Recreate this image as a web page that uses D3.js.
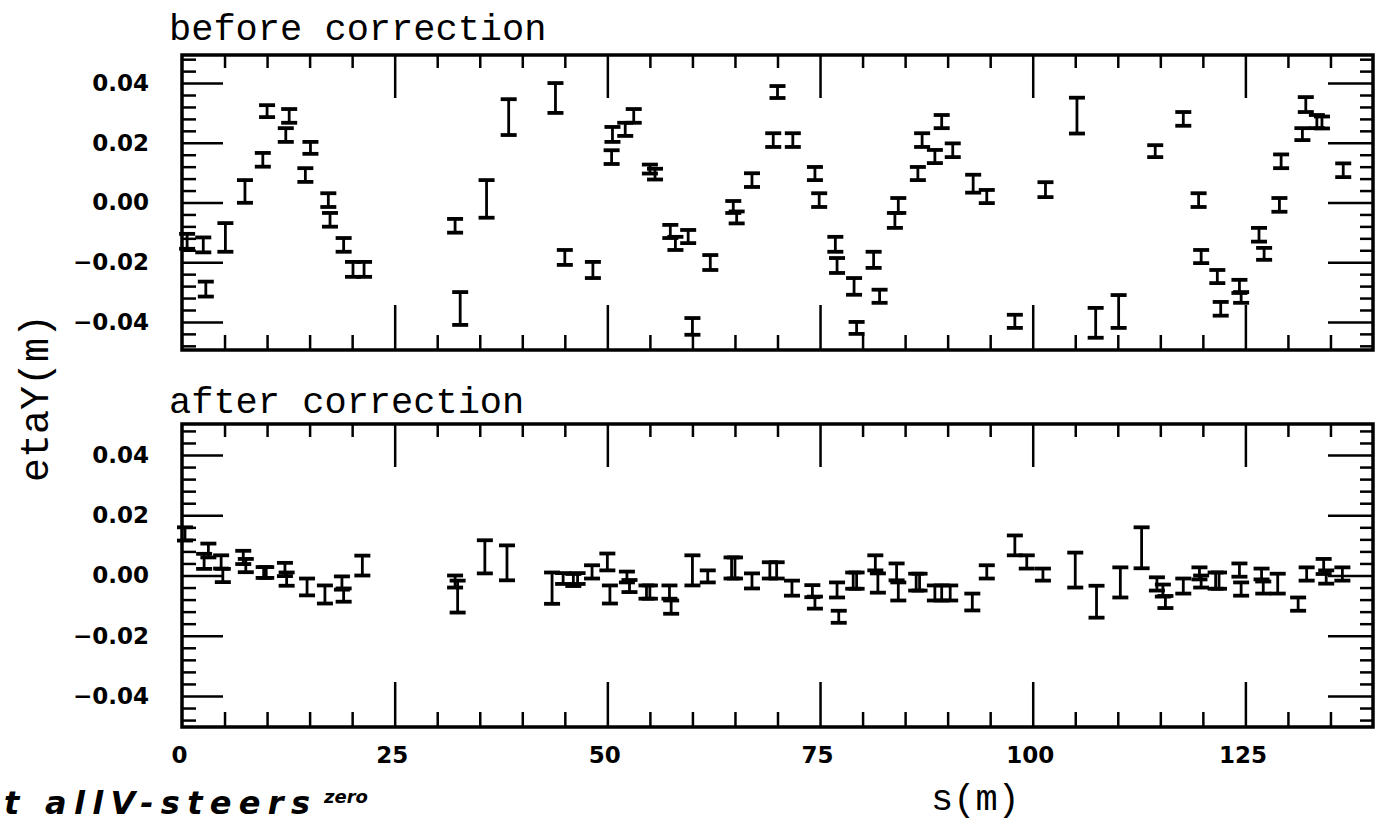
<!DOCTYPE html>
<html>
<head>
<meta charset="utf-8">
<script src="https://cdn.jsdelivr.net/npm/d3@7"></script>
<style>
  body { margin: 0; background: #fff; }
  svg { display: block; }
  .tick line { stroke: #000; stroke-width: 2.5; }
  .tick text { font-family: "DejaVu Sans", sans-serif; font-weight: bold; font-size: 23px; fill: #000; }
  .title { font-family: "Liberation Mono", monospace; font-size: 37px; fill: #000; }
</style>
</head>
<body>
<div id="chart"></div>
<script>
// s positions (m), etaY (m) and half error bars
const sBefore = [0.6, 2.5, 2.8, 5.1, 7.4, 9.5, 10.0, 12.2, 12.6, 14.5, 15.1, 17.2, 17.4, 19.0, 20.1, 21.4,
  32.1, 32.7, 35.8, 38.4, 43.9, 45.0, 48.3, 50.5, 50.6, 52.1, 53.1, 55.0, 55.6, 57.4, 58.0, 59.5, 60.0,
  62.1, 64.8, 65.2, 67.0, 69.5, 70.0, 71.8, 74.4, 74.9, 76.8, 77.0, 79.0, 79.3, 81.3, 82.0, 83.8, 84.2,
  86.5, 87.0, 88.5, 89.3, 90.6, 93.0, 94.6, 97.9, 101.5, 105.2, 107.4, 110.1, 114.4, 117.7, 119.5, 119.8,
  121.7, 122.1, 124.3, 124.5, 126.6, 127.2, 129.0, 129.2, 131.7, 132.1, 133.4, 134.0, 136.5]
const etaBefore = [-0.0130, -0.0142, -0.0290, -0.0117, 0.0037, 0.0143, 0.0306, 0.0226, 0.0290, 0.0092, 0.0183,
  0.0008, -0.0058, -0.0142, -0.0224, -0.0224,
  -0.0078, -0.0355, 0.0012, 0.0286, 0.0350, -0.0184, -0.0226, 0.0152, 0.0228, 0.0245, 0.0290, 0.0112, 0.0095,
  -0.0097, -0.0137, -0.0114, -0.0415,
  -0.0201, -0.0015, -0.0050, 0.0075, 0.0209, 0.0370, 0.0209, 0.0097, 0.0008, -0.0140, -0.0211, -0.0281,
  -0.0420, -0.0192, -0.0314, -0.0060, -0.0010,
  0.0097, 0.0209, 0.0154, 0.0271, 0.0175, 0.0063, 0.0020, -0.0398, 0.0043, 0.0291, -0.0403, -0.0365, 0.0172,
  0.0280, 0.0008, -0.0181,
  -0.0248, -0.0356, -0.0281, -0.0318, -0.0108, -0.0172, -0.0008, 0.0138, 0.0229, 0.0328, 0.0271, 0.0268, 0.0108]
const errBefore = [0.0025, 0.0025, 0.0025, 0.0048, 0.0038, 0.0023, 0.0020, 0.0023, 0.0023, 0.0023, 0.0020,
  0.0023, 0.0023, 0.0023, 0.0025, 0.0025,
  0.0023, 0.0055, 0.0063, 0.0060, 0.0050, 0.0025, 0.0027, 0.0023, 0.0025, 0.0022, 0.0023, 0.0015, 0.0018,
  0.0022, 0.0022, 0.0022, 0.0028,
  0.0025, 0.0020, 0.0020, 0.0023, 0.0023, 0.0020, 0.0023, 0.0022, 0.0023, 0.0025, 0.0025, 0.0028,
  0.0020, 0.0027, 0.0022, 0.0025, 0.0025,
  0.0022, 0.0023, 0.0022, 0.0022, 0.0023, 0.0030, 0.0022, 0.0022, 0.0025, 0.0060, 0.0050, 0.0055, 0.0020,
  0.0023, 0.0023, 0.0022,
  0.0022, 0.0023, 0.0022, 0.0018, 0.0023, 0.0020, 0.0023, 0.0023, 0.0020, 0.0025, 0.0022, 0.0020, 0.0023]

const sAfter = [0.35, 2.6, 3.1, 4.6, 4.8, 7.2, 7.5, 9.6, 9.9, 12.1, 12.3, 14.7, 16.8, 18.8, 19.0, 21.2,
  32.1, 32.4, 35.6, 38.2, 43.5, 44.8, 46.0, 46.5, 48.2, 50.0, 50.3, 52.3, 52.6, 54.6, 55.0, 57.3, 57.5,
  60.0, 61.8, 64.6, 65.0, 67.0, 69.1, 69.9, 71.7, 74.1, 74.4, 77.0, 77.2, 78.9, 79.3, 81.5, 81.8, 84.0,
  84.2, 86.3, 86.7, 88.5, 89.3, 90.3, 92.9, 94.6, 97.9, 99.3, 101.2, 105.0, 107.5, 110.3, 112.8, 114.6,
  115.3, 115.6, 117.7, 119.6, 119.8, 121.5, 121.9, 124.3, 124.5, 126.9, 127.1, 128.8, 131.2, 132.2,
  134.2, 134.5, 136.4]
const etaAfter = [0.0138, 0.0047, 0.0083, 0.0045, 0.0000, 0.0060, 0.0033, 0.0010, 0.0010, 0.0020, -0.0012,
  -0.0038, -0.0063, -0.0025, -0.0065, 0.0033,
  -0.0020, -0.0070, 0.0062, 0.0042, -0.0042, -0.0010, -0.0015, -0.0010, 0.0012, 0.0045, -0.0063, -0.0005,
  -0.0035, -0.0055, -0.0055, -0.0055, -0.0105,
  0.0017, -0.0003, 0.0025, 0.0025, -0.0018, 0.0017, 0.0017, -0.0042, -0.0052, -0.0090, -0.0048, -0.0137,
  -0.0017, -0.0017, 0.0042, -0.0025, 0.0012,
  -0.0053, -0.0022, -0.0022, -0.0058, -0.0058, -0.0058, -0.0088, 0.0012, 0.0100, 0.0045, 0.0003, 0.0018,
  -0.0087, -0.0023, 0.0092, -0.0028,
  -0.0050, -0.0088, -0.0035, 0.0007, -0.0020, -0.0017, -0.0017, 0.0018, -0.0045, 0.0005, -0.0040, -0.0027,
  -0.0095, 0.0005, 0.0030, -0.0005, 0.0005]
const errAfter = [0.0022, 0.0025, 0.0023, 0.0022, 0.0022, 0.0022, 0.0022, 0.0018, 0.0018, 0.0022, 0.0022,
  0.0028, 0.0030, 0.0022, 0.0022, 0.0033,
  0.0020, 0.0053, 0.0055, 0.0058, 0.0052, 0.0018, 0.0020, 0.0018, 0.0022, 0.0028, 0.0030, 0.0018,
  0.0020, 0.0022, 0.0022, 0.0022, 0.0022,
  0.0050, 0.0020, 0.0035, 0.0035, 0.0025, 0.0027, 0.0027, 0.0025, 0.0020, 0.0020, 0.0025, 0.0020,
  0.0027, 0.0027, 0.0025, 0.0032, 0.0028,
  0.0030, 0.0028, 0.0028, 0.0025, 0.0025, 0.0025, 0.0028, 0.0022, 0.0033, 0.0022, 0.0020, 0.0058,
  0.0053, 0.0050, 0.0068, 0.0022,
  0.0020, 0.0020, 0.0025, 0.0020, 0.0020, 0.0027, 0.0027, 0.0022, 0.0022, 0.0018, 0.0020, 0.0033,
  0.0022, 0.0022, 0.0025, 0.0022, 0.0022]

const xMajor = [0, 25, 50, 75, 100, 125]
const yMajor = [-0.04, -0.02, 0, 0.02, 0.04]

// set the dimensions of the page and the two panels
let width = 1390, height = 825
let left = 182, right = 1373

let x = d3.scaleLinear().domain([0, 140]).range([left, right])

let svg = d3.select("#chart").append("svg")
    .attr("width", width)
    .attr("height", height)

// minor / major tick values
let xMinor = d3.range(5, 140, 5).filter(d => d % 25 != 0)
let xLong = xMajor.filter(d => d > 0)
let yMinor = d3.range(-12, 13).map(i => i * 4 / 1000).filter(d => Math.abs(d * 1000) % 20 > 0.5)

const drawPanel = (top, bottom, yMax, sVals, eta, err, title, titleY) => {
    let y = d3.scaleLinear().domain([-yMax, yMax]).range([bottom, top])
    let g = svg.append("g")

    // ticks on all four sides, pointing in
    g.append("g").attr("transform", "translate(0," + top + ")")
        .call(d3.axisTop(x).tickValues(xMinor).tickSize(-13).tickFormat(""))
    g.append("g").attr("transform", "translate(0," + top + ")")
        .call(d3.axisTop(x).tickValues(xLong).tickSize(-43).tickFormat(""))
    g.append("g").attr("transform", "translate(0," + bottom + ")")
        .call(d3.axisBottom(x).tickValues(xMinor).tickSize(-15).tickFormat(""))
    g.append("g").attr("transform", "translate(0," + bottom + ")")
        .call(d3.axisBottom(x).tickValues(xLong).tickSize(-45).tickFormat(""))
    g.append("g").attr("transform", "translate(" + left + ",0)")
        .call(d3.axisLeft(y).tickValues(yMinor).tickSize(-14).tickFormat(""))
    g.append("g").attr("transform", "translate(" + left + ",0)")
        .call(d3.axisLeft(y).tickValues(yMajor).tickSize(-41).tickFormat(""))
    g.append("g").attr("transform", "translate(" + right + ",0)")
        .call(d3.axisRight(y).tickValues(yMinor).tickSize(-13).tickFormat(""))
    g.append("g").attr("transform", "translate(" + right + ",0)")
        .call(d3.axisRight(y).tickValues(yMajor).tickSize(-45).tickFormat(""))

    // y labels
    g.append("g").attr("transform", "translate(" + left + ",0)")
        .call(d3.axisLeft(y).tickValues(yMajor).tickSize(0).tickPadding(33).tickFormat(d3.format(".2f")))

    g.selectAll(".domain").remove()

    // frame
    g.append("rect")
        .attr("x", left).attr("y", top)
        .attr("width", right - left).attr("height", bottom - top)
        .attr("fill", "none").attr("stroke", "#000").attr("stroke-width", 3.5)

    // error bars
    let bars = g.selectAll(".bar")
        .data(sVals.map((s, i) => ({ s: s, v: eta[i], e: err[i] })))
        .enter().append("g")
        .attr("class", "bar")
    bars.append("line")
        .attr("x1", d => x(d.s)).attr("x2", d => x(d.s))
        .attr("y1", d => y(d.v - d.e)).attr("y2", d => y(d.v + d.e))
        .attr("stroke", "#000").attr("stroke-width", 2.8)
    bars.append("line")
        .attr("x1", d => x(d.s) - 8).attr("x2", d => x(d.s) + 8)
        .attr("y1", d => y(d.v + d.e)).attr("y2", d => y(d.v + d.e))
        .attr("stroke", "#000").attr("stroke-width", 3.8)
    bars.append("line")
        .attr("x1", d => x(d.s) - 8).attr("x2", d => x(d.s) + 8)
        .attr("y1", d => y(d.v - d.e)).attr("y2", d => y(d.v - d.e))
        .attr("stroke", "#000").attr("stroke-width", 3.8)

    g.append("text")
        .attr("class", "title")
        .attr("x", left - 13)
        .attr("y", titleY)
        .text(title)
    return y
}

drawPanel(55, 350, 0.0494, sBefore, etaBefore, errBefore, "before correction", 40)
drawPanel(424, 727, 0.0503, sAfter, etaAfter, errAfter, "after correction", 413)

// x labels under the lower panel
svg.append("g").attr("transform", "translate(-3,727)")
    .call(d3.axisBottom(x).tickValues(xMajor).tickSize(0).tickPadding(20).tickFormat(d3.format("d")))
    .select(".domain").remove()

svg.append("text")
    .attr("class", "title")
    .attr("font-size", 38)
    .attr("x", 931)
    .attr("y", 810)
    .text("s(m)")

svg.append("text")
    .attr("class", "title")
    .attr("transform", "translate(48,398) rotate(-90)")
    .attr("text-anchor", "middle")
    .style("font-size", "40px")
    .text("etaY(m)")

// handwritten note at the bottom
svg.append("text")
    .attr("x", 4)
    .attr("y", 814)
    .attr("font-family", "DejaVu Sans")
    .attr("font-weight", "bold")
    .attr("font-style", "italic")
    .attr("font-size", 32)
    .attr("textLength", 306)
    .text("t allV-steers")
svg.append("text")
    .attr("x", 324)
    .attr("y", 803)
    .attr("font-family", "DejaVu Sans")
    .attr("font-weight", "bold")
    .attr("font-style", "italic")
    .attr("font-size", 18)
    .text("zero")
</script>
</body>
</html>
